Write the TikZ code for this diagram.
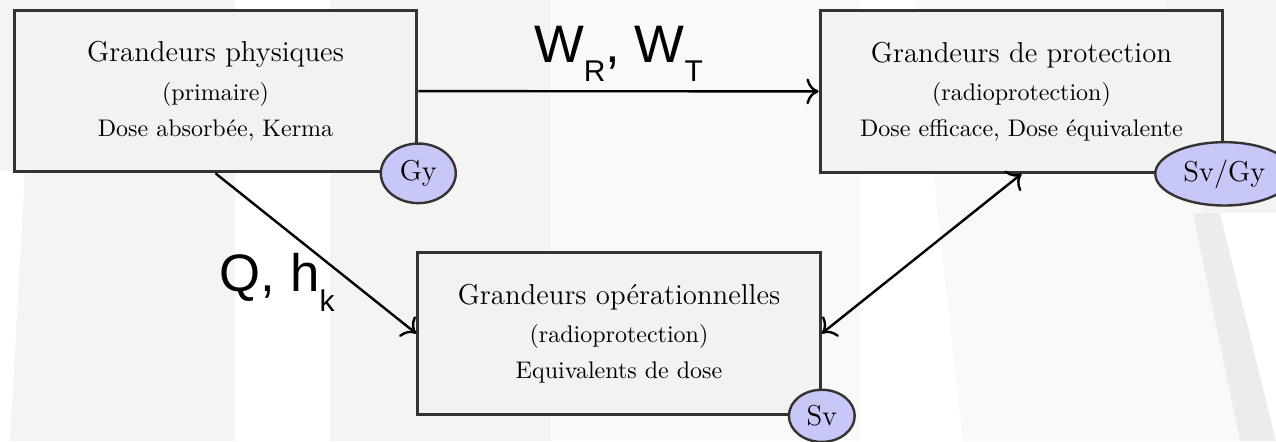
\documentclass[tikz,border=0pt]{standalone}
\usepackage{fontspec}
\newfontfamily\labelfont{Liberation Sans}
\usetikzlibrary{shapes.geometric,arrows.meta}

\definecolor{fond}{HTML}{F4F4F2}
\definecolor{clair}{HTML}{F9F9F7}
\definecolor{bande}{HTML}{ECECEA}
\definecolor{bleuunite}{HTML}{C8C8F8}

% lettre avec indice en bas, pour les facteurs de ponderation
\newcommand{\facteur}[2]{#1\raisebox{-0.37em}{\fontsize{12.5}{13}\selectfont #2}}

\tikzset{
	grandeur/.style={draw=black!80,line width=1.2pt,fill=black!5,minimum width=5.9cm,minimum height=2.37cm,align=center},
	unite/.style={ellipse,draw=black!80,line width=1pt,fill=bleuunite,font=\large},
	fleche/.style={-{To[scale=1.35]},line width=1pt},
	coef/.style={font=\labelfont\fontsize{22}{26}\selectfont,inner sep=2pt},
}

\begin{document}
\begin{tikzpicture}[x=0.1465cm,y=0.1465cm]
	\path [use as bounding box,fill=fond] (0,0) rectangle (127.6,44.1);
	\clip (0,0) rectangle (127.6,44.1);
	% bandes claires du fond
	\fill [white] (0,0) -- (1,0) -- (2.5,27) -- (0,27) -- cycle;
	\fill [white] (23.5,0) -- (33,0) -- (33,44.1) -- (23.5,44.1) -- cycle;
	\fill [clair] (55,0) -- (86,0) -- (86,44.1) -- (55,44.1) -- cycle;
	\fill [white] (86,0) -- (96.3,0) -- (91.5,44.1) -- (86,44.1) -- cycle;
	\fill [clair] (96.3,0) -- (124,0) -- (116.5,44.1) -- (91.5,44.1) -- cycle;
	\fill [bande] (124,0) -- (127.6,0) -- (122,22.8) -- (119.3,22.8) -- cycle;
	\fill [white] (127.6,0) -- (127.6,22.8) -- (122,22.8) -- cycle;

	\node [grandeur] (phys) at (21.55,35) {{\large Grandeurs physiques}\\[4pt] (primaire)\\[3pt] Dose absorbée, Kerma};
	\node [grandeur] (prot) at (102.15,34.95) {{\large Grandeurs de protection}\\[4pt] (radioprotection)\\[3pt] Dose efficace, Dose équivalente};
	\node [grandeur] (oper) at (61.9,10.75) {{\large Grandeurs opérationnelles}\\[4pt] (radioprotection)\\[3pt] Equivalents de dose};

	\node [unite] (gy) at (phys.south east) {Gy};
	\node [unite] (svgy) at (prot.south east) {Sv/Gy};
	\node [unite] (sv) at (oper.south east) {Sv};

	\draw [fleche] (phys) -- (prot) node [coef,midway,above,yshift=1.5pt] {\facteur{W}{R}, \facteur{W}{T}};
	\draw [fleche] (phys.south) -- (oper.west) node [coef,pos=0.48,anchor=north east,xshift=12pt,yshift=1.2pt] {Q, \facteur{h}{k}};
	\draw [fleche,{To[scale=1.35]}-{To[scale=1.35]}] (oper.east) -- (prot.south);
\end{tikzpicture}
\end{document}
